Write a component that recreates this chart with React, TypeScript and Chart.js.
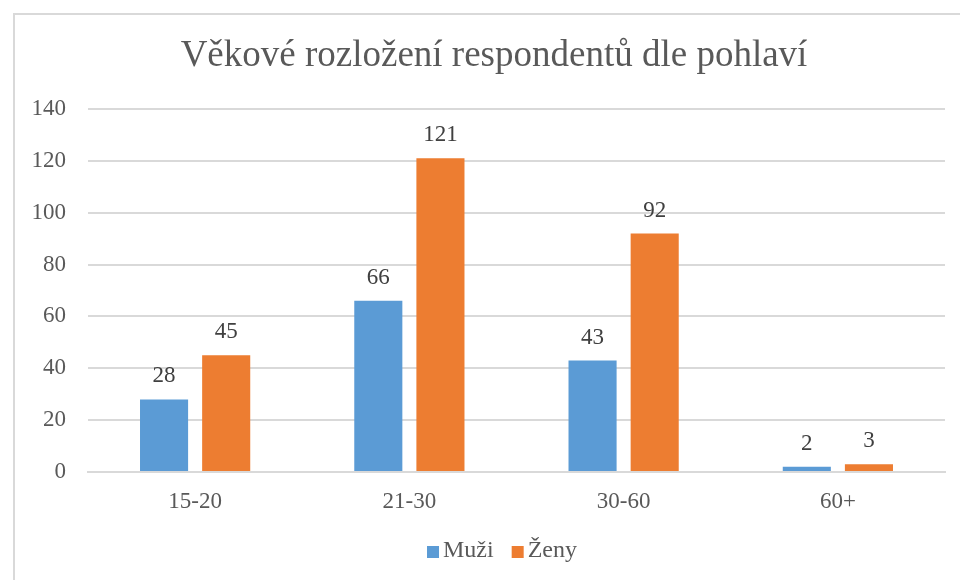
import React, { useEffect, useRef } from "react";
import { Chart, registerables } from "chart.js";

Chart.register(...registerables);

const categories = ["15-20", "21-30", "30-60", "60+"];
const muzi = [28, 66, 43, 2];
const zeny = [45, 121, 92, 3];
const seriesNames = ["Muži", "Ženy"];
const seriesColors = ["#5B9BD5", "#ED7D31"];
const titleText = "Věkové rozložení respondentů dle pohlaví";

const FONT = "'Liberation Serif', 'Times New Roman', serif";

const dataLabelPlugin = {
  id: "dataLabels",
  afterDatasetsDraw(chart: any) {
    const ctx = chart.ctx;
    ctx.save();
    ctx.font = `23px ${FONT}`;
    ctx.fillStyle = "#404040";
    ctx.textAlign = "center";
    ctx.textBaseline = "middle";
    chart.data.datasets.forEach((ds: any, i: number) => {
      const meta = chart.getDatasetMeta(i);
      meta.data.forEach((bar: any, j: number) => {
        ctx.fillText(String(ds.data[j]), bar.x, bar.y - 23);
      });
    });
    ctx.restore();
  },
};

const customTitlePlugin = {
  id: "customTitle",
  afterDraw(chart: any) {
    const ctx = chart.ctx;
    ctx.save();
    ctx.font = `37px ${FONT}`;
    ctx.fillStyle = "#595959";
    ctx.textAlign = "center";
    ctx.textBaseline = "alphabetic";
    ctx.fillText(titleText, chart.width / 2, 51);
    ctx.restore();
  },
};

const customLegendPlugin = {
  id: "customLegend",
  afterDraw(chart: any) {
    const ctx = chart.ctx;
    ctx.save();
    ctx.font = `24px ${FONT}`;
    ctx.textBaseline = "middle";
    const box = 12;
    const gap = 4;
    const itemGap = 18;
    const items = chart.data.datasets.map((ds: any) => ({
      text: ds.label,
      color: ds.backgroundColor,
      w: ctx.measureText(ds.label).width,
    }));
    const total =
      items.reduce((s: number, it: any) => s + box + gap + it.w, 0) +
      itemGap * (items.length - 1);
    let x = 487 - total / 2;
    const y = 536;
    items.forEach((it: any) => {
      ctx.fillStyle = it.color;
      ctx.fillRect(x, y - box / 2 + 1, box, box);
      x += box + gap;
      ctx.fillStyle = "#595959";
      ctx.textAlign = "left";
      ctx.fillText(it.text, x, y);
      x += it.w + itemGap;
    });
    ctx.restore();
  },
};

export default function App() {
  const ref = useRef<HTMLCanvasElement>(null);
  useEffect(() => {
    const chart = new Chart(ref.current!, {
      type: "bar",
      data: {
        labels: categories,
        datasets: [
          { label: seriesNames[0], data: muzi, backgroundColor: seriesColors[0] },
          { label: seriesNames[1], data: zeny, backgroundColor: seriesColors[1] },
        ],
      },
      options: {
        responsive: false,
        animation: false,
        layout: { padding: { left: 0, right: 28, top: 94, bottom: 65 } },
        datasets: {
          bar: { categoryPercentage: 0.58, barPercentage: 0.774 },
        } as any,
        plugins: {
          title: { display: false },
          legend: { display: false },
          tooltip: { enabled: false },
        },
        scales: {
          x: {
            grid: { display: false, drawTicks: false },
            border: { display: true, color: "#d9d9d9", width: 2 },
            ticks: {
              color: "#595959",
              font: { family: FONT, size: 23 },
              padding: 16,
            },
            afterFit(scale: any) {
              scale.height = 58;
            },
          },
          y: {
            min: 0,
            max: 140,
            ticks: {
              stepSize: 20,
              color: "#595959",
              font: { family: FONT, size: 23 },
              padding: 22,
            },
            grid: { color: "#d9d9d9", lineWidth: 2, drawTicks: false },
            border: { display: false },
            afterFit(scale: any) {
              scale.width = 73;
            },
          },
        },
      },
      plugins: [dataLabelPlugin, customTitlePlugin, customLegendPlugin],
    });
    return () => chart.destroy();
  }, []);
  return (
    <div
      style={{
        position: "fixed",
        left: 0,
        top: 0,
        width: 960,
        height: 580,
        overflow: "hidden",
        background: "#fff",
      }}
    >
      <div
        style={{
          position: "absolute",
          left: 13,
          top: 13,
          width: 958,
          height: 600,
          border: "2px solid #d9d9d9",
        }}
      >
        <canvas ref={ref} width={958} height={580} style={{ display: "block" }} />
      </div>
    </div>
  );
}
